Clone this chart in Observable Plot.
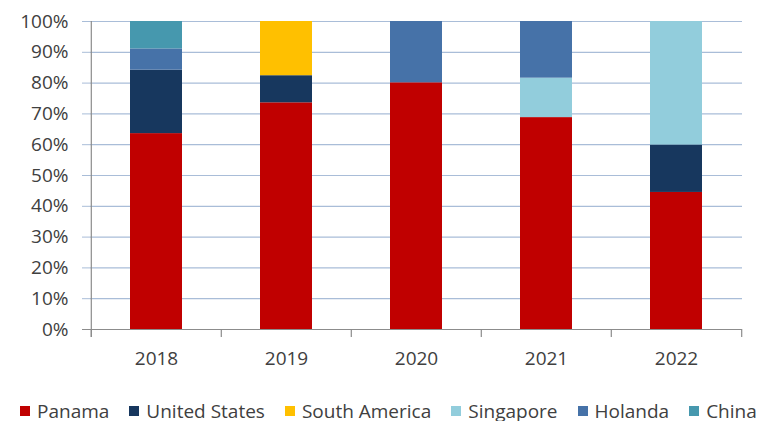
<!DOCTYPE html>
<html><head><meta charset="utf-8">
<script src="https://cdn.jsdelivr.net/npm/d3@7"></script>
<script src="https://cdn.jsdelivr.net/npm/@observablehq/plot@0.6"></script>
<style>
html,body{margin:0;background:#fff;font-family:"Open Sans",sans-serif;overflow:hidden;}
#chart svg{display:block;}
#legend{display:flex;align-items:center;gap:20px;padding-left:20px;margin-top:16px;height:20px;line-height:20px;font-size:19px;color:#404040;white-space:nowrap;}
#legend .item{display:flex;align-items:center;gap:7px;}
#legend .sw{width:10px;height:10px;display:inline-block;}
</style></head><body>
<div id="chart"></div>
<div id="legend"></div>
<script>
const years = ["2018","2019","2020","2021","2022"];
const series = ["Panama","United States","South America","Singapore","Holanda","China"];
const colors = ["#C00000","#17375E","#FFC000","#92CDDC","#4672A8","#4698AE"];
const panama       = [63.6, 73.6, 80.1, 68.8, 44.5];
const unitedStates = [20.6,  8.8,  0,    0,   15.4];
const southAmerica = [ 0,   17.6,  0,    0,    0  ];
const singapore    = [ 0,    0,    0,   12.8, 40.1];
const holanda      = [ 6.9,  0,   19.9, 18.4,  0  ];
const china        = [ 8.9,  0,    0,    0,    0  ];
const yTicks = [0,10,20,30,40,50,60,70,80,90,100];

const valuesBySeries = [panama, unitedStates, southAmerica, singapore, holanda, china];
const rows = [];
series.forEach((s, si) => years.forEach((y, yi) => {
  const v = valuesBySeries[si][yi];
  if (v > 0) rows.push({year: y, series: s, value: v});
}));

const W = 757, H = 385, mL = 90, mR = 15, mT = 21, mB = 56;
const step = (W - mL - mR) / years.length;
const gridColor = "#A9BDD8", axisColor = "#8C8C8C", textColor = "#404040";

const chart = Plot.plot({
  width: W, height: H,
  marginLeft: mL, marginRight: mR, marginTop: mT, marginBottom: mB,
  style: {fontFamily: "'Open Sans', sans-serif", fontSize: "19px", color: textColor, background: "#fff"},
  x: {domain: years, paddingInner: 0.6, paddingOuter: 0.3},
  y: {domain: [0, 100]},
  color: {domain: series, range: colors},
  marks: [
    Plot.gridY(yTicks, {stroke: gridColor, strokeOpacity: 1, strokeWidth: 1.2}),
    Plot.axisY(yTicks, {tickSize: 8, tickPadding: 14, stroke: gridColor, strokeOpacity: 1, fill: textColor, tickFormat: d => d + "%", label: null}),
    Plot.barY(rows, {x: "year", y: "value", fill: "series"}),
    Plot.ruleY([0], {stroke: axisColor, insetLeft: -8, strokeWidth: 1.2}),
    Plot.ruleX([years[0]], {dx: -step/2, y1: 100, y2: 0, insetBottom: -8, stroke: axisColor, strokeWidth: 1.2}),
    Plot.ruleX(years, {x: d => d, dx: -step/2, y1: 0, y2: 0, insetBottom: -8, stroke: axisColor, strokeWidth: 1.2}),
    Plot.ruleX([years[years.length-1]], {dx: step/2, y1: 0, y2: 0, insetBottom: -8, stroke: axisColor, strokeWidth: 1.2}),
    Plot.axisX({tickSize: 0, tickPadding: 22, fill: textColor, label: null})
  ]
});
document.getElementById("chart").appendChild(chart);

const legend = document.getElementById("legend");
series.forEach((s, i) => {
  const item = document.createElement("span");
  item.className = "item";
  const sw = document.createElement("span");
  sw.className = "sw";
  sw.style.background = colors[i];
  const t = document.createElement("span");
  t.textContent = s;
  item.appendChild(sw); item.appendChild(t);
  legend.appendChild(item);
});
</script>
</body></html>
